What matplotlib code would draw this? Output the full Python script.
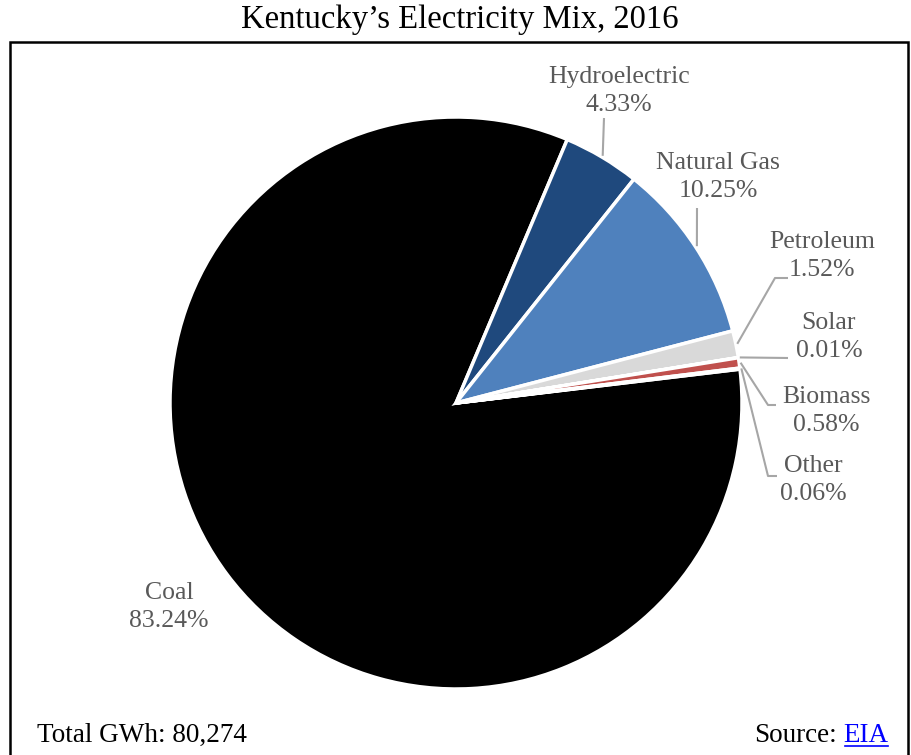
import matplotlib.pyplot as plt
import numpy as np
from matplotlib.patches import Rectangle

# data
sources = ["Coal", "Hydroelectric", "Natural Gas", "Petroleum", "Solar", "Biomass", "Other"]
shares = [83.24, 4.33, 10.25, 1.52, 0.01, 0.58, 0.06]
colors = ["#000000", "#1f497d", "#4f81bd", "#d9d9d9", "#f0c000", "#c0504d", "#8c8c8c"]
total_gwh = "80,274"

plt.rcParams['font.family'] = ['Liberation Serif', 'DejaVu Serif']

W, H = 912, 755
fig = plt.figure(figsize=(W / 100, H / 100), dpi=100)
ax = fig.add_axes([0, 0, 1, 1])

cx, cy, r = 456, H - 403, 286
wedges, _ = ax.pie(shares, colors=colors, startangle=6.8, counterclock=False,
                   center=(cx, cy), radius=r, frame=True,
                   wedgeprops=dict(edgecolor="white", linewidth=2.5))
ax.set_xlim(0, W)
ax.set_ylim(0, H)
ax.axis('off')

# border box
ax.add_patch(Rectangle((10, -5), 898, H - 42 + 5, fill=False, edgecolor="black", linewidth=1.8))

txt = "#595959"
lc = "#a6a6a6"

def edge_pt(w, frac=0.5, rr=1.0):
    a = np.deg2rad(w.theta1 + (w.theta2 - w.theta1) * frac)
    return cx + r * rr * np.cos(a), cy + r * rr * np.sin(a)

# label positions (pixel, top-left origin) and leader elbows
labels = {
    "Coal": ((169, 607), None),
    "Hydroelectric": ((619, 91), [(604, 118)]),
    "Natural Gas": ((718, 177), [(697, 208)]),
    "Petroleum": ((822, 256), [(775, 278), (788, 278)]),
    "Solar": ((829, 337), [(788, 358)]),
    "Biomass": ((826, 411), [(768, 405), (776, 405)]),
    "Other": ((813, 480), [(768, 476), (777, 476)]),
}

for w, name, val in zip(wedges, sources, shares):
    (lx, ly), pts = labels[name]
    ax.text(lx, H - ly, f"{name}\n{val:.2f}%", ha="center", va="center",
            fontsize=18.5, color=txt, linespacing=1.3)
    if pts:
        x0, y0 = edge_pt(w, rr=1.005)
        xs = [x0] + [p[0] for p in pts]
        ys = [y0] + [H - p[1] for p in pts]
        ax.plot(xs, ys, color=lc, linewidth=1.5, solid_capstyle="butt")

fig.text(460 / W, 1 - 20 / H, "Kentucky\u2019s Electricity Mix, 2016", ha="center", va="center",
         fontsize=23.5, color="black")
fig.text(37 / W, 1 - 735 / H, f"Total GWh: {total_gwh}", ha="left", va="center",
         fontsize=19.5, color="black")
fig.text(888 / W, 1 - 735 / H, "EIA", ha="right", va="center", fontsize=19.5,
         color="#0000ff")
fig.text(837 / W, 1 - 735 / H, "Source:", ha="right", va="center", fontsize=19.5, color="black")
ax.plot([845, 888], [H - 746, H - 746], color="#0000ff", linewidth=1.2)

fig.savefig("out.png", dpi=100)
